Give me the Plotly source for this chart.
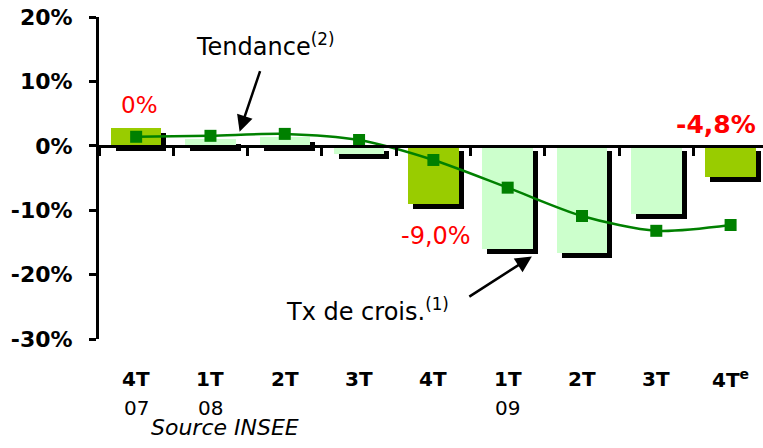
import plotly.graph_objects as go

# ---- data ----
quarters = ["4T", "1T", "2T", "3T", "4T", "1T", "2T", "3T", "4T<sup>e</sup>"]
years = ["07", "08", "", "", "", "09", "", "", ""]
cat_ids = ["4T07", "1T08", "2T08", "3T08", "4T08", "1T09", "2T09", "3T09", "4T09e"]
growth = [2.8, 1.1, 1.4, -1.3, -9.1, -16.0, -16.6, -10.6, -4.9]
trend = [1.4, 1.55, 1.85, 0.9, -2.2, -6.5, -10.9, -13.2, -12.3]
highlight = [True, False, False, False, True, False, False, False, True]
ytick_vals = [-30, -20, -10, 0, 10, 20]
ytick_text = ["-30%", "-20%", "-10%", "0%", "10%", "20%"]
value_labels = ["0%", "-9,0%", "-4,8%"]

FONT = "DejaVu Sans"
C_HI = "#99CC00"
C_LO = "#CCFFCC"
C_LINE = "#008000"

BAR_W = 0.68
SH_DX = 0.067   # shadow offset (category units)
SH_DY = 0.78    # shadow offset (percentage points)

fig = go.Figure()

# shadows
fig.add_trace(go.Bar(
    x=cat_ids, y=growth, base=[-SH_DY] * len(growth),
    width=BAR_W, offset=-BAR_W / 2 + SH_DX,
    marker=dict(color="black", line=dict(width=0)),
    hoverinfo="skip", showlegend=False,
))
# main bars
fig.add_trace(go.Bar(
    x=cat_ids, y=growth,
    width=BAR_W, offset=-BAR_W / 2,
    marker=dict(color=[C_HI if h else C_LO for h in highlight], line=dict(width=0)),
    showlegend=False,
))
# trend line
fig.add_trace(go.Scatter(
    x=cat_ids, y=trend, mode="lines+markers",
    line=dict(color=C_LINE, width=2.5, shape="spline", smoothing=0.8),
    marker=dict(symbol="square", size=12, color=C_LINE),
    showlegend=False,
))

annotations = []
# category labels
for i, (q, yr) in enumerate(zip(quarters, years)):
    annotations.append(dict(x=cat_ids[i], y=-0.124, xref="x", yref="paper",
                            text="<b>%s</b>" % q, showarrow=False,
                            font=dict(family=FONT, size=20, color="black"),
                            xanchor="center", yanchor="middle"))
    if yr:
        annotations.append(dict(x=cat_ids[i], y=-0.214, xref="x", yref="paper",
                                text=yr, showarrow=False,
                                font=dict(family=FONT, size=20, color="black"),
                                xanchor="center", yanchor="middle"))

# red value labels
annotations += [
    dict(x=0.05, y=6.4, xref="x", yref="y", text=value_labels[0], showarrow=False,
         font=dict(family=FONT, size=23, color="#FF0000")),
    dict(x=4.03, y=-14.0, xref="x", yref="y", text=value_labels[1], showarrow=False,
         font=dict(family=FONT, size=24, color="#FF0000")),
    dict(x=7.8, y=3.3, xref="x", yref="y", text="<b>%s</b>" % value_labels[2], showarrow=False,
         font=dict(family=FONT, size=25, color="#FF0000")),
]

# Tendance text + arrow
annotations.append(dict(x=1.74, y=15.7, xref="x", yref="y",
                        text="Tendance<sup>(2)</sup>", showarrow=False,
                        font=dict(family=FONT, size=24, color="black")))
annotations.append(dict(x=1.392, y=2.2, xref="x", yref="y", text="",
                        showarrow=True, ax=21, ay=-62, arrowhead=2, arrowsize=1.3,
                        arrowwidth=2.5, arrowcolor="black", standoff=0))
# Tx de crois text + arrow
annotations.append(dict(x=3.12, y=-25.5, xref="x", yref="y",
                        text="Tx de crois.<sup>(1)</sup>", showarrow=False,
                        font=dict(family=FONT, size=24, color="black")))
annotations.append(dict(x=5.325, y=-17.2, xref="x", yref="y", text="",
                        showarrow=True, ax=-64, ay=41, arrowhead=2, arrowsize=1.3,
                        arrowwidth=2.5, arrowcolor="black", standoff=0))
# source
annotations.append(dict(x=0.19, y=-0.275, xref="paper", yref="paper",
                        text="<i>Source INSEE</i>", showarrow=False,
                        font=dict(family=FONT, size=22, color="black"),
                        xanchor="center", yanchor="middle"))

fig.update_layout(
    width=763, height=448,
    margin=dict(l=99, r=0, t=17, b=109, autoexpand=False),
    paper_bgcolor="white", plot_bgcolor="white",
    barmode="overlay",
    bargap=0,
    annotations=annotations,
    xaxis=dict(
        type="category", categoryorder="array", categoryarray=cat_ids,
        range=[-0.5, 8.436],
        anchor="free", position=0.6, automargin=False,
        showline=True, linecolor="black", linewidth=3,
        ticks="outside", tickson="boundaries", ticklen=8, tickwidth=3, tickcolor="black",
        showticklabels=False, showgrid=False, zeroline=False,
    ),
    yaxis=dict(
        range=[-30, 20], tickvals=ytick_vals, ticktext=ytick_text,
        automargin=False,
        showline=True, linecolor="black", linewidth=3,
        ticks="outside", ticklen=7, tickwidth=3, tickcolor="black",
        tickfont=dict(family=FONT, size=22, color="black", weight="bold"),
        ticklabelstandoff=12,
        showgrid=False, zeroline=False,
    ),
)

fig.write_html(
    "out.html",
    config={"displayModeBar": False},
    post_script="document.body.style.margin='0';document.body.style.padding='0';",
)
